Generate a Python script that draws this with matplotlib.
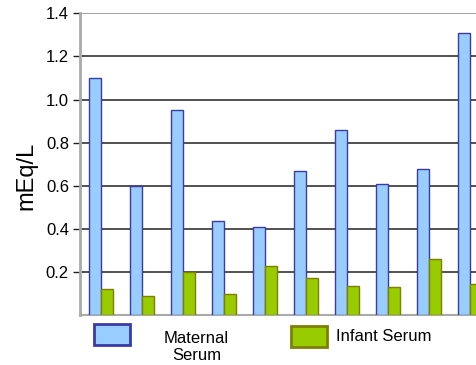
import numpy as np
import matplotlib.pyplot as plt
import matplotlib.patches as patches

plt.rcParams['font.family'] = ['Liberation Sans', 'DejaVu Sans']

maternal = [1.10, 0.60, 0.95, 0.435, 0.41, 0.67, 0.86, 0.61, 0.68, 1.31]
infant = [0.12, 0.09, 0.20, 0.10, 0.23, 0.175, 0.135, 0.13, 0.26, 0.145]
yticks = [0.2, 0.4, 0.6, 0.8, 1.0, 1.2, 1.4]
ytick_labels = ['0.2', '0.4', '0.6', '0.8', '1.0', '1.2', '1.4']

blue = '#99ccff'
blue_edge = '#3b3ba8'
green = '#99cc00'
green_edge = '#7f7f00'

fig = plt.figure(figsize=(4.76, 3.65), dpi=100)
ax = fig.add_axes([80/476, 49.7/365, 396/476, 302/365])

x = np.arange(len(maternal))
w = 0.293
ax.bar(x - w/2, maternal, w, color=blue, edgecolor=blue_edge, linewidth=1, zorder=3)
ax.bar(x + w/2, infant, w, color=green, edgecolor=green_edge, linewidth=1, zorder=3)

# horizontal grid lines
for yv in yticks[:-1]:
    ax.axhline(yv, color='#222222', linewidth=1.1, zorder=1)
ax.axhline(1.4, color='#999999', linewidth=1.3, zorder=1)

ax.set_xlim(-0.52, 9.14)
ax.set_ylim(0, 1.4)
ax.set_yticks(yticks)
ax.set_yticklabels(ytick_labels, fontsize=12)
ax.tick_params(axis='y', length=5, width=1, color='#222222', pad=3)
ax.set_xticks([])

for s in ['top', 'right']:
    ax.spines[s].set_visible(False)
ax.spines['left'].set_color('#aaaaaa')
ax.spines['left'].set_linewidth(2)
ax.spines['bottom'].set_color('#aaaaaa')
ax.spines['bottom'].set_linewidth(1.5)

fig.text(0.0546, 0.518, 'mEq/L', rotation=90, fontsize=17, ha='center', va='center')

# legend drawn by hand below the axes
fig.patches.append(patches.Rectangle((0.198, 0.0548), 0.075, 0.0575, transform=fig.transFigure,
                                     facecolor=blue, edgecolor=blue_edge, linewidth=2))
fig.patches.append(patches.Rectangle((0.6107, 0.050), 0.0756, 0.0567, transform=fig.transFigure,
                                     facecolor=green, edgecolor=green_edge, linewidth=2))
fig.text(0.4128, 0.050, 'Maternal\nSerum', fontsize=12, ha='center', va='center', linespacing=1.2)
fig.text(0.706, 0.0775, 'Infant Serum', fontsize=12, ha='left', va='center')

plt.savefig('out.png', dpi=100)
